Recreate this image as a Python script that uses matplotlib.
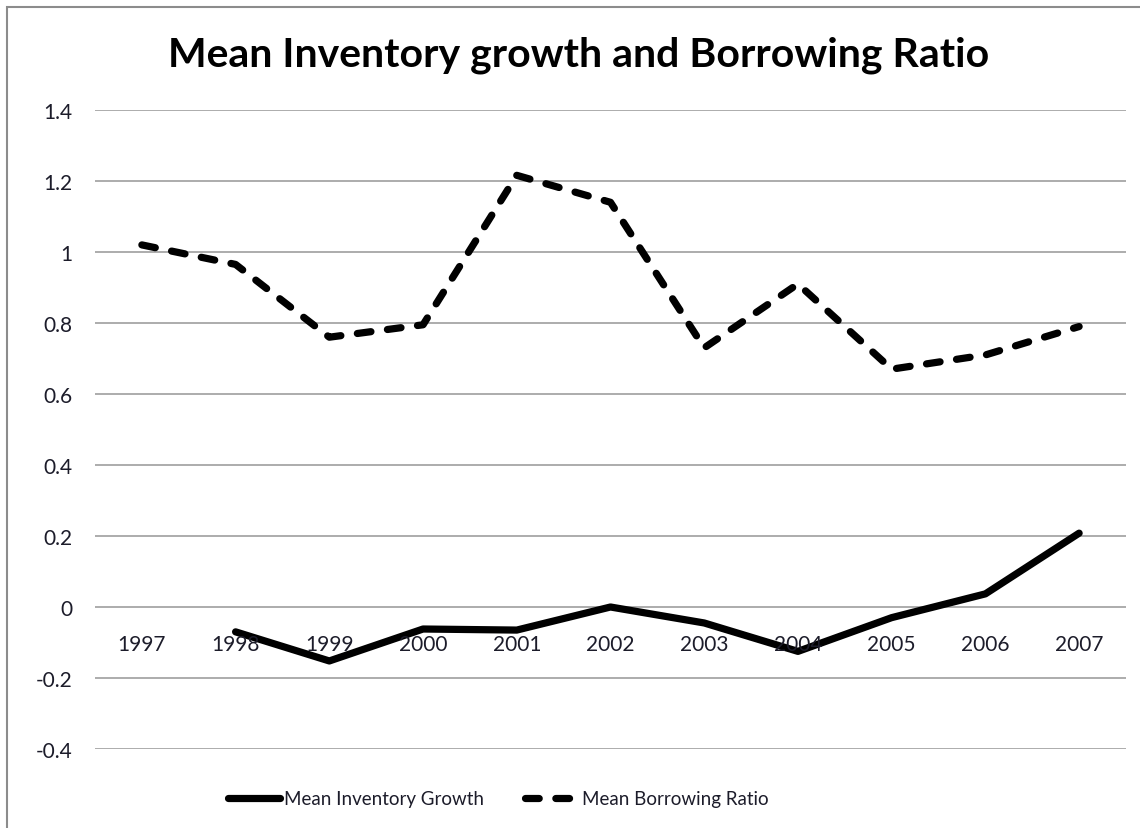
import matplotlib.pyplot as plt
from matplotlib.patches import Rectangle

plt.rcParams['font.family'] = ['Lato', 'DejaVu Sans']

years = ['1997', '1998', '1999', '2000', '2001', '2002',
         '2003', '2004', '2005', '2006', '2007']

# 1997 has no inventory growth value
inventory_growth = [None, -0.07, -0.152, -0.062, -0.065, 0.0,
                    -0.045, -0.125, -0.03, 0.037, 0.208]
borrowing_ratio = [1.02, 0.965, 0.76, 0.795, 1.216, 1.14,
                   0.73, 0.91, 0.67, 0.71, 0.79]

y_ticks = [-0.4, -0.2, 0, 0.2, 0.4, 0.6, 0.8, 1, 1.2, 1.4]
y_labels = ['-0.4', '-0.2', '0', '0.2', '0.4', '0.6', '0.8', '1', '1.2', '1.4']

fig = plt.figure(figsize=(11.4, 8.29), dpi=100)
ax = fig.add_axes([95 / 1140, 1 - 750 / 829, 1031 / 1140, 639 / 829])

x = list(range(len(years)))
inv_x = [i for i, v in zip(x, inventory_growth) if v is not None]
inv_y = [v for v in inventory_growth if v is not None]

ax.plot(inv_x, inv_y, color='black', lw=5.2, solid_capstyle='round',
        solid_joinstyle='round', label='Mean Inventory Growth', zorder=3)
ax.plot(x, borrowing_ratio, color='black', lw=5.2, dashes=(1.9, 2.3),
        dash_capstyle='round', dash_joinstyle='round',
        label='Mean Borrowing Ratio', zorder=3)

ax.set_xlim(-0.5, len(years) - 0.5)
ax.set_ylim(-0.4, 1.4)
ax.set_yticks(y_ticks)
ax.set_yticklabels(y_labels)
ax.set_xticks([])
for s in ax.spines.values():
    s.set_visible(False)
ax.tick_params(axis='y', length=0, pad=16, labelsize=15, labelcolor='#1c1c2a')
ax.grid(axis='y', color='#a6a6a6', lw=1.3)
ax.set_axisbelow(True)

# category labels sit just under the zero line
for i, yr in enumerate(years):
    ax.annotate(yr, (i, 0), xytext=(0, -31), textcoords='offset points',
                ha='center', va='baseline', fontsize=15, color='#1c1c2a')

fig.text(0.508, 1 - 55 / 829, 'Mean Inventory growth and Borrowing Ratio',
         ha='center', va='center', fontsize=29.5, fontweight='bold')

fig.legend(loc='center', bbox_to_anchor=(0.437, 1 - 800 / 829), ncol=2,
           frameon=False, fontsize=13.5, handlelength=2.8, handletextpad=0.2,
           columnspacing=2.2, labelcolor='#1c1c2a')

fig.patches.append(Rectangle((7 / 1140, -0.1), 1.2, 1 - 8 / 829 + 0.1,
                             transform=fig.transFigure, fill=False,
                             edgecolor='#8c8c8c', lw=1.5))

fig.savefig('out.png', dpi=100)
